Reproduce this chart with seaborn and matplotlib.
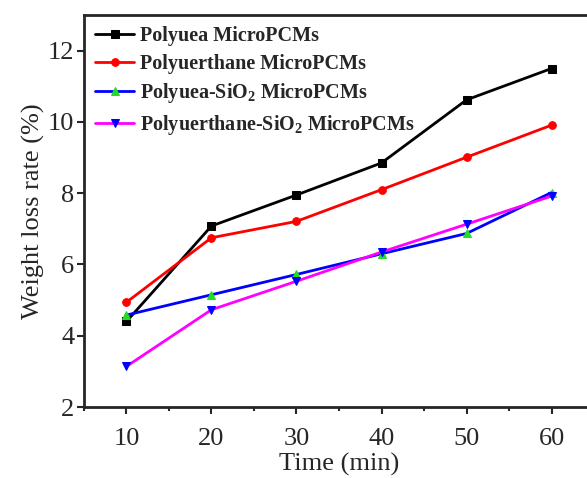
import numpy as np
import pandas as pd
import seaborn as sns
import matplotlib.pyplot as plt
from matplotlib.ticker import MultipleLocator

time_min = [10, 20, 30, 40, 50, 60]
polyuea = [4.40, 7.08, 7.95, 8.85, 10.62, 11.50]
polyurethane = [4.94, 6.75, 7.21, 8.10, 9.01, 9.91]
polyuea_sio2 = [4.58, 5.15, 5.72, 6.30, 6.87, 8.02]
polyurethane_sio2 = [3.14, 4.73, 5.53, 6.35, 7.13, 7.92]

labels = ['Polyuea MicroPCMs',
          'Polyuerthane MicroPCMs',
          r'Polyuea-SiO$_\mathbf{2}$ MicroPCMs',
          r'Polyuerthane-SiO$_\mathbf{2}$ MicroPCMs']
series = [polyuea, polyurethane, polyuea_sio2, polyurethane_sio2]

# line colour, marker, marker colour
styles = [('black', 's', 'black'),
          ('red', 'o', 'red'),
          ('blue', '^', '#22dd22'),
          ('magenta', 'v', 'blue')]

sns.set_style('ticks')
plt.rcParams['font.family'] = ['Liberation Serif', 'DejaVu Serif']
plt.rcParams['mathtext.fontset'] = 'custom'
plt.rcParams['mathtext.rm'] = 'Liberation Serif'
plt.rcParams['mathtext.bf'] = 'Liberation Serif:bold'

fig = plt.figure(figsize=(5.87, 4.78), dpi=100)
ax = fig.add_axes([0.143, 0.1485, 0.869, 0.82])

for lab, vals, (lc, mk, mc) in zip(labels, series, styles):
    df = pd.DataFrame({'Time': time_min, 'Rate': vals})
    sns.lineplot(data=df, x='Time', y='Rate', ax=ax, color=lc, lw=2,
                 marker=mk, markersize=5.5, markerfacecolor=mc,
                 markeredgecolor=mc, label=lab)

ax.set_xlim(5, 65)
ax.set_ylim(2, 13)
ax.set_xticks(time_min)
ax.xaxis.set_minor_locator(MultipleLocator(5))
ax.set_yticks([2, 4, 6, 8, 10, 12])

ax.set_xlabel('Time (min)', fontsize=19, labelpad=2)
ax.set_ylabel('Weight loss rate (%)', fontsize=19, labelpad=2)
ax.tick_params(axis='both', which='major', labelsize=19, direction='out',
               length=5, width=1.5, pad=2)
ax.tick_params(axis='x', which='major', pad=10)
ax.tick_params(axis='x', which='minor', direction='out', length=3, width=1.5)

for s in ['left', 'bottom', 'top', 'right']:
    ax.spines[s].set_linewidth(2)
    ax.spines[s].set_visible(True)

leg = ax.legend(loc='upper left', frameon=False, prop={'weight': 'bold', 'size': 14.5},
                handlelength=1.95, handletextpad=0.3, labelspacing=0.38,
                borderaxespad=0.15, bbox_to_anchor=(0.0, 1.0))

fig.savefig('out.png', dpi=100)
